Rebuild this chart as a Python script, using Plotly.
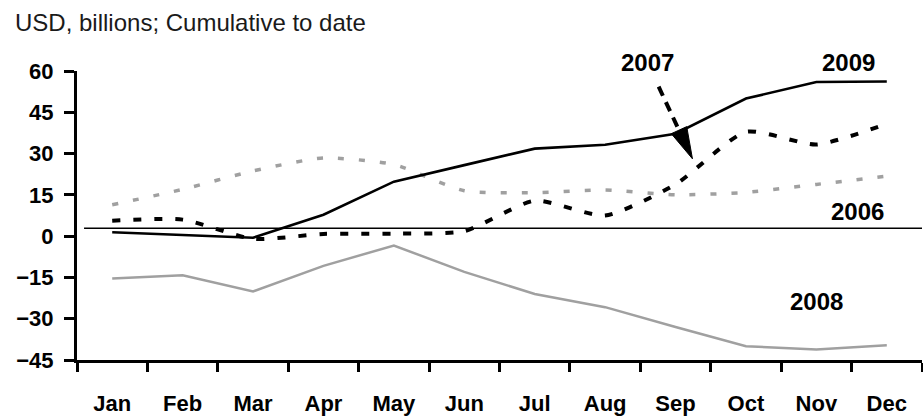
import math
import plotly.graph_objects as go

# Monthly cumulative flows, USD billions
months = ["Jan", "Feb", "Mar", "Apr", "May", "Jun",
          "Jul", "Aug", "Sep", "Oct", "Nov", "Dec"]
y2006 = [11.4, 17.0, 23.7, 28.4, 26.0, 16.5, 15.8, 16.8, 15.0, 15.9, 18.8, 21.8]
y2007 = [5.6, 6.0, -1.0, 0.8, 0.9, 1.8, 12.9, 7.5, 18.8, 37.9, 33.3, 40.8]
y2008 = [-15.4, -14.2, -20.1, -10.8, -3.4, -13.0, -21.0, -25.8, -33.0, -40.0, -41.2, -39.6]
y2009 = [1.4, 0.5, -0.6, 7.8, 19.8, 25.8, 31.8, 33.2, 37.2, 50.0, 56.0, 56.2]

y_ticks = [-45, -30, -15, 0, 15, 30, 45, 60]
ref_level = 2.9

W, H = 923, 417
M = dict(l=77, r=1, t=71, b=53)
X_RANGE = [-0.5, 11.5]
Y_RANGE = [-45, 60]

x = list(range(len(months)))

fig = go.Figure()

fig.add_trace(go.Scatter(
    x=x, y=y2006, mode="lines",
    line=dict(color="#a0a0a0", width=3.5, dash="6px,15px", shape="spline", smoothing=0.6),
    hoverinfo="skip"))
fig.add_trace(go.Scatter(
    x=x, y=y2008, mode="lines",
    line=dict(color="#a0a0a0", width=2.5),
    hoverinfo="skip"))
fig.add_trace(go.Scatter(
    x=x, y=y2007, mode="lines",
    line=dict(color="black", width=4, dash="8px,13px", shape="spline", smoothing=0.6),
    hoverinfo="skip"))
fig.add_trace(go.Scatter(
    x=x, y=y2009, mode="lines",
    line=dict(color="black", width=2.6),
    hoverinfo="skip"))

# thin reference line across the plot
fig.add_shape(type="line", xref="x", yref="y",
              x0=-0.4, x1=11.5, y0=ref_level, y1=ref_level,
              line=dict(color="black", width=1.5), layer="above")

# dashed arrow pointing to the 2007 series
px_x = (W - M["l"] - M["r"]) / (X_RANGE[1] - X_RANGE[0])
px_y = (H - M["t"] - M["b"]) / (Y_RANGE[1] - Y_RANGE[0])
tail = (7.76, 54.3)
tip = (8.24, 28.1)
dxp = (tip[0] - tail[0]) * px_x
dyp = (tip[1] - tail[1]) * px_y
L = math.hypot(dxp, dyp)
ux, uy = dxp / L, dyp / L
head_len, head_half = 32, 8.5
bx = tip[0] - head_len * ux / px_x
by = tip[1] - head_len * uy / px_y
# perpendicular in pixel space
nx, ny = -uy, ux
p1 = (bx + head_half * nx / px_x, by + head_half * ny / px_y)
p2 = (bx - head_half * nx / px_x, by - head_half * ny / px_y)
fig.add_shape(type="line", xref="x", yref="y",
              x0=tail[0], y0=tail[1], x1=bx, y1=by,
              line=dict(color="black", width=4, dash="10px,7px"), layer="above")
fig.add_shape(type="path", xref="x", yref="y",
              path=f"M {tip[0]} {tip[1]} L {p1[0]} {p1[1]} L {p2[0]} {p2[1]} Z",
              fillcolor="black", line=dict(color="black", width=1), layer="above")

# series labels; the two above the top of the axis are placed in paper units
label_font = dict(family="Liberation Sans, Arial, sans-serif",
                  size=24, color="black", weight="bold")


def y_to_paper(v):
    return (v - Y_RANGE[0]) / (Y_RANGE[1] - Y_RANGE[0])


for txt, lx, ly in [("2007", 7.6, 63.2), ("2009", 10.45, 63.2),
                    ("2006", 10.58, 9.0), ("2008", 10.0, -23.9)]:
    fig.add_annotation(x=lx, y=y_to_paper(ly), xref="x", yref="paper", text=txt,
                       showarrow=False, font=label_font,
                       xanchor="center", yanchor="middle")

tick_font = dict(family="Liberation Sans, Arial, sans-serif", size=22,
                 color="black", weight="bold")

fig.update_layout(
    width=W, height=H,
    margin=M,
    paper_bgcolor="white", plot_bgcolor="white",
    showlegend=False,
    title=dict(text="USD, billions; Cumulative to date",
               xref="container", yref="container",
               x=15 / W, xanchor="left", y=1 - 22.5 / H, yanchor="middle",
               font=dict(family="Liberation Sans, Arial, sans-serif", size=24, color="#1a1a1a")),
    xaxis=dict(range=X_RANGE, tickvals=x, ticktext=months, ticks="",
               showgrid=False, zeroline=False,
               showline=True, linecolor="black", linewidth=3,
               tickfont=tick_font, ticklabelstandoff=22,
               minor=dict(tick0=-0.5, dtick=1, ticks="outside", ticklen=9,
                          tickwidth=2.5, tickcolor="black", showgrid=False)),
    yaxis=dict(range=Y_RANGE, tickvals=y_ticks, ticks="outside", ticklen=10,
               tickwidth=2.5, tickcolor="black",
               showgrid=False, zeroline=False,
               showline=True, linecolor="black", linewidth=3,
               tickfont=tick_font, ticklabelstandoff=6),
)

fig.write_html("out.html")
